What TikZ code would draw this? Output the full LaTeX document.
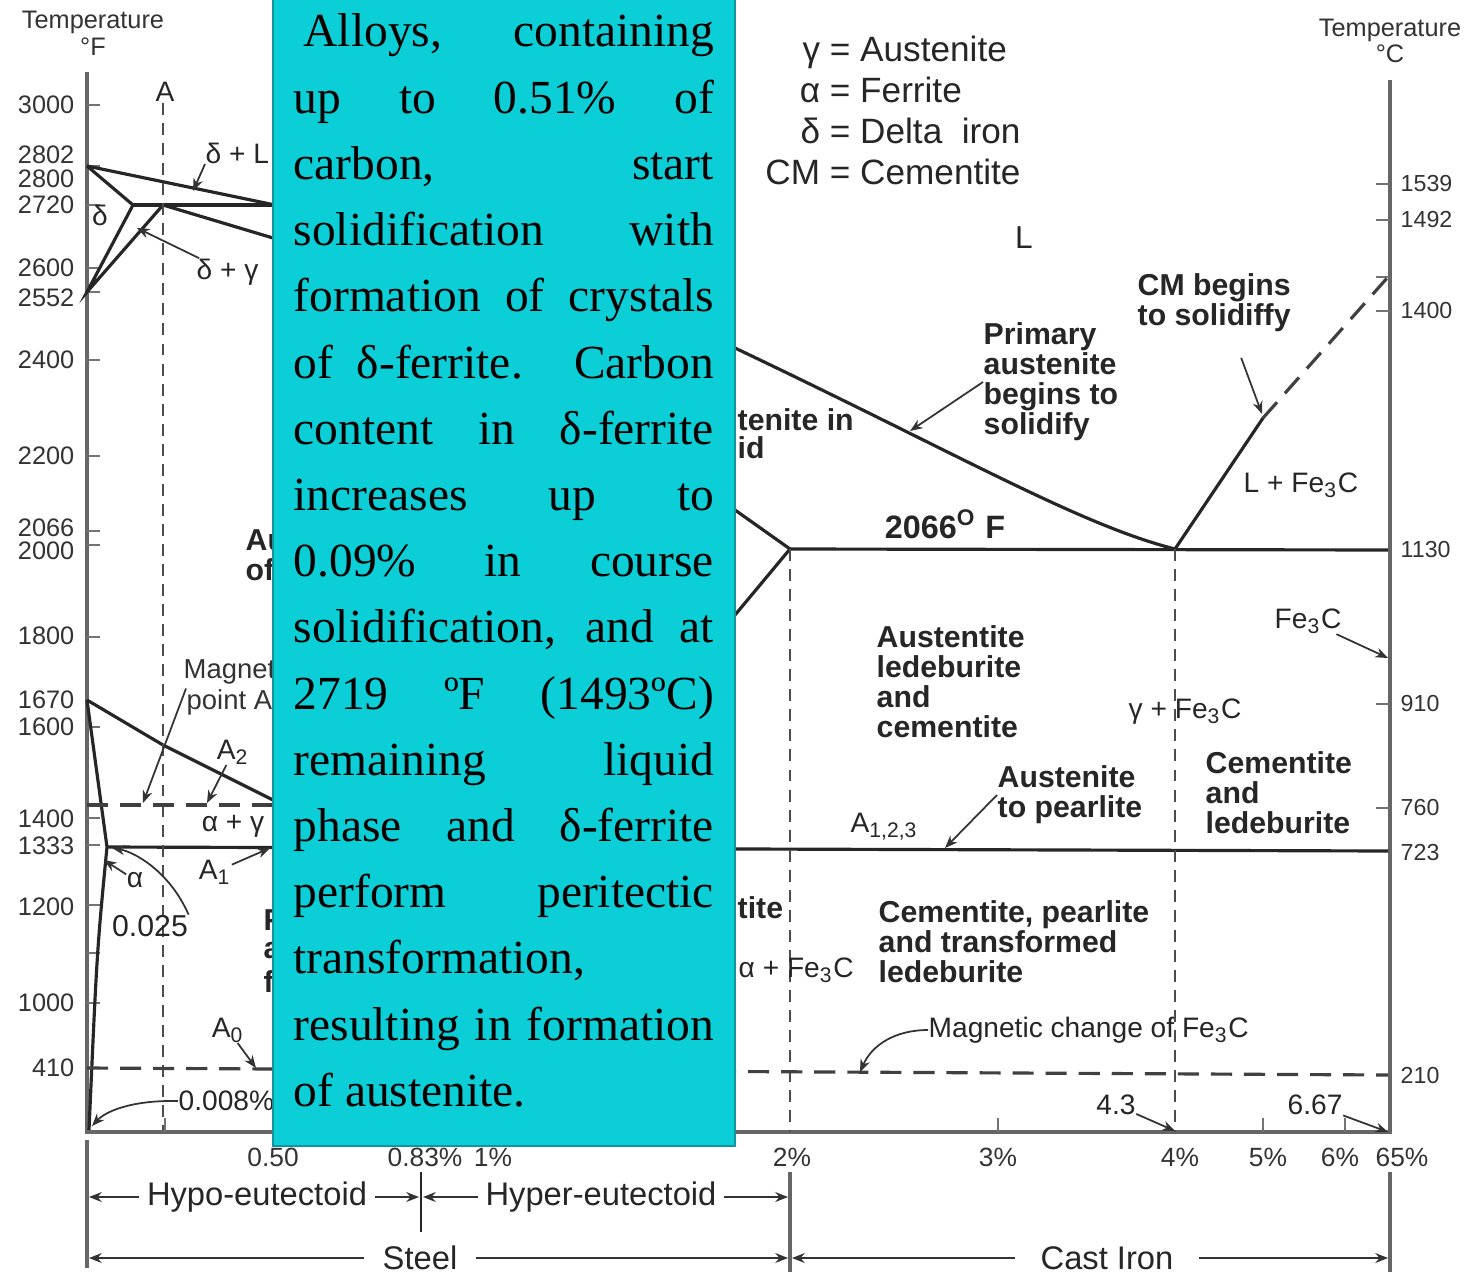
\documentclass[tikz,border=0pt]{standalone}
\usepackage{fontspec}
\setmainfont{Liberation Sans}
\newfontfamily\boxserif{Liberation Serif}
\usetikzlibrary{arrows.meta}

\definecolor{notecyan}{RGB}{11,206,214}
\definecolor{noteedge}{RGB}{16,150,158}
\newcommand{\fe}{Fe\textsubscript{3}C}
\newcommand{\jline}[1]{\makebox[4.2cm][s]{#1}}

\begin{document}
\begin{tikzpicture}[x=0.01cm,y=-0.01cm,
>={Stealth[length=3.6pt,width=2.8pt]},
phase/.style={line width=0.9pt,black!85},
frame/.style={line width=1.3pt,black!60},
tk/.style={line width=0.6pt,black!55},
dashv/.style={line width=0.8pt,black!70,dash pattern=on 3.4pt off 2.3pt},
dashh/.style={line width=0.9pt,black!75,dash pattern=on 6pt off 3.4pt},
lead/.style={->,line width=0.5pt,black!80},
lbl/.style={inner sep=0pt,text=black!85,font=\fontsize{8}{8.5}\selectfont},
tlab/.style={inner sep=0pt,text=black!80,font=\fontsize{7.2}{7.6}\selectfont},
region/.style={inner sep=0pt,align=left,text=black!85,font=\fontsize{8.6}{8.55}\selectfont\bfseries},
dim/.style={inner sep=2pt,text=black!85,font=\fontsize{9.3}{10}\selectfont},
note/.style={fill=notecyan,draw=noteedge,line width=0.6pt,minimum width=4.62cm,minimum height=11.54cm,inner sep=0pt},
notetxt/.style={inner sep=0pt,font=\boxserif\fontsize{13.5}{16}\selectfont}
]
\useasboundingbox (0,0) rectangle (1470,1276);
\fill[white] (0,0) rectangle (1470,1276);

% axes and scales
\draw[frame] (87,72) -- (87,1132) -- (1390,1132) -- (1390,80);
\foreach \y in {105,166,205,268,292,360,456,531,545,637,727,818,845,905,953,1003,1068}
  \draw[tk] (87,\y) -- (100,\y);
\foreach \y/\lbl in {105/3000,155/2802,179/2800,205/2720,268/2600,298/2552,360/2400,456/2200,528/2066,551/2000,636/1800,700/1670,727/1600,819/1400,846/1333,907/1200,1003/1000,1068/410}
  \node[tlab,anchor=east,font=\fontsize{7.2}{7.5}\selectfont] (f\lbl) at (75,\y) {\lbl};
\foreach \y in {184,220,277,311,704,808}
  \draw[tk] (1376,\y) -- (1390,\y);
\foreach \y/\lbl in {184/1539,220/1492,311/1400,550/1130,704/910,808/760,852/723,1075/210}
  \node[tlab,anchor=west,font=\fontsize{6.6}{7}\selectfont] (c\lbl) at (1400,\y) {\lbl};
\foreach \x in {165,998,1263,1345}
  \draw[tk] (\x,1132) -- (\x,1118);
\foreach \x/\lbl [count=\i] in {273/0.50,425/0.83\%,493/1\%,792/2\%,998/3\%,1180/4\%,1268/5\%,1340/6\%,1402/65\%}
  \node[tlab,font=\fontsize{7.5}{8}\selectfont] (p\i) at (\x,1157) {\lbl};
\node[tlab,align=center] (tempF) at (93,33) {Temperature\\°F};
\node[tlab,align=center] (tempC) at (1390,41) {Temperature\\°C};

% phase boundaries
\coordinate (melt) at (87,166);
\coordinate (dcorner) at (133,205);
\coordinate (peri) at (163,205);
\coordinate (dbase) at (87,292);
\coordinate (liq) at (275,205);
\coordinate (e2) at (790,549);
\coordinate (eut) at (1175,549);
\coordinate (cm) at (1263,418);
\coordinate (cmtop) at (1388,277);
\coordinate (g910) at (87,700);
\coordinate (a025) at (107,847);
\coordinate (eutd) at (421,847);

\draw[phase] (melt) -- (liq) -- (735,348) .. controls (960,455) and (1080,525) .. (eut);
\draw[phase] (melt) -- (dcorner) -- (dbase) -- (peri) -- (273,238) -- (735,510) -- (e2);
\draw[phase] (dcorner) -- (liq);
\draw[phase] (g910) -- (163,745) -- (273,800) -- (eutd) -- (735,615) -- (e2);
\draw[phase] (g910) -- (a025) .. controls (97,950) .. (89,1130);
\draw[phase] (a025) -- (1388,851);
\draw[phase] (e2) -- (1388,550);
\draw[phase] (eut) -- (cm);
\draw[dashh] (cm) -- (cmtop);
\draw[dashv] (163,103) -- (163,1130);
\draw[dashv] (e2) -- (790,1132);
\draw[dashv] (eut) -- (1175,1132);
\draw[dashh] (87,805) -- (275,805);
\draw[dashh] (87,1068) -- (1388,1075);

% legend
\node[inner sep=0pt,text=black!85,font=\fontsize{10}{11.7}\selectfont] (legend) at (893,115)
  {\begin{tabular}{@{}r@{ = }l@{}}γ & Austenite\\ α & Ferrite\\ δ & Delta\ \ iron\\ CM & Cementite\end{tabular}};

% labels, left part
\node[lbl] (lA) at (165,92) {A};
\node[lbl,anchor=west] (dL) at (205,153) {δ + L};
\node[lbl] (dlt) at (100,215) {δ};
\node[lbl,anchor=west] (dG) at (196,272) {δ + γ};
\node[tlab,anchor=west,font=\fontsize{7.8}{8}\selectfont] (magnet) at (183,672) {Magnet};
\node[tlab,anchor=west,font=\fontsize{7.8}{8}\selectfont] (pointA) at (186,702) {point A};
\node[region,anchor=west] (au) at (245,540) {Au};
\node[region,anchor=west] (of) at (245,570) {of};
\node[lbl] (a2) at (233,752) {A\textsubscript{2}};
\node[lbl] (ag) at (233,826) {α + γ};
\node[lbl] (a1) at (215,872) {A\textsubscript{1}};
\node[lbl] (al) at (135,880) {α};
\node[lbl,font=\fontsize{8.6}{9}\selectfont] (p025) at (150,926) {0.025};
\node[region,anchor=west,font=\fontsize{8.6}{9}\selectfont\bfseries] (fr1) at (263,920) {F};
\node[region,anchor=west,font=\fontsize{8.6}{9}\selectfont\bfseries] (fr2) at (263,951) {a};
\node[region,anchor=west,font=\fontsize{8.6}{9}\selectfont\bfseries] (fr3) at (263,982) {f};
\node[lbl] (a0) at (228,1030) {A\textsubscript{0}};
\node[lbl,anchor=west] (p008) at (178,1101) {0.008\%};

\draw[lead] (dL.south west) -- (193,191);
\draw[lead] (dG) -- (137,228);
\draw[lead] (pointA.north west) -- (143,803);
\draw[lead] (a2) -- (207,803);
\draw[lead] (a1) -- (270,848);
\draw[lead] (al) -- (104,860);
\draw[lead] (p025.north east) .. controls (170,872) and (135,852) .. (112,848);
\draw[lead] (a0) -- (256,1068);
\draw[lead] (p008.west) .. controls (130,1100) and (105,1112) .. (92,1126);

% labels, right part
\node[lbl,font=\fontsize{9}{9}\selectfont] (lq) at (1024,238) {L};
\node[region,anchor=west] (pa) at (983,382) {Primary\\austenite\\begins to\\solidify};
\node[region,anchor=west,font=\fontsize{8.6}{8}\selectfont\bfseries] (ail) at (737,434) {tenite in\\id};
\node[region,font=\fontsize{9.2}{9}\selectfont\bfseries] (t2066) at (945,524) {2066\textsuperscript{O} F};
\node[region,anchor=west] (cmb) at (1137,303) {CM begins\\to solidiffy};
\node[lbl,anchor=west] (lfe) at (1243,485) {L + \fe};
\node[lbl,anchor=west] (fe3) at (1274,621) {\fe};
\node[region,anchor=west] (alc) at (876,682) {Austentite\\ledeburite\\and\\cementite};
\node[lbl,anchor=west] (gfe) at (1128,712) {γ + \fe};
\node[region,anchor=west] (atp) at (997,795) {Austenite\\to pearlite};
\node[lbl,anchor=west] (a123) at (850,827) {A\textsubscript{1,2,3}};
\node[region,anchor=west] (cal) at (1205,793) {Cementite\\and\\ledeburite};
\node[region,anchor=west] (tite) at (737,908) {tite};
\node[lbl,anchor=west] (afe) at (738,970) {α + \fe};
\node[region,anchor=west] (cpt) at (878,942) {Cementite, pearlite\\and transformed\\ledeburite};
\node[lbl,anchor=west] (mc) at (928,1030) {Magnetic change of \fe};
\node[lbl] (p43) at (1116,1105) {4.3};
\node[lbl] (p667) at (1315,1105) {6.67};

\draw[lead] (pa.west) -- (910,431);
\draw[lead] ([xshift=0.27cm,yshift=-0.25cm]cmb.south) -- (1262,414);
\draw[lead] (atp.west) -- (945,848);
\draw[lead] (fe3) -- (1388,658);
\draw[lead] (mc.west) .. controls (895,1030) and (872,1045) .. (860,1072);
\draw[lead] (p43) -- (1175,1131);
\draw[lead] (p667) -- (1388,1132);

% steel and cast iron ranges
\draw[frame] (87,1140) -- (87,1268);
\draw[line width=0.8pt,black!85] (421,1172) -- (421,1232);
\draw[frame] (790,1172) -- (790,1272);
\draw[frame] (1390,1172) -- (1390,1272);
\node[dim] (hypo) at (257,1197) {Hypo-eutectoid};
\node[dim] (hyper) at (601,1197) {Hyper-eutectoid};
\node[dim,inner xsep=0.18cm] (steel) at (420,1258) {Steel};
\node[dim,inner xsep=0.25cm] (cast) at (1107,1258) {Cast Iron};
\draw[->,line width=0.8pt,black!80] (hypo) -- (89,1197);
\draw[->,line width=0.8pt,black!80] (hypo) -- (419,1197);
\draw[->,line width=0.8pt,black!80] (hyper) -- (423,1197);
\draw[->,line width=0.8pt,black!80] (hyper) -- (788,1197);
\draw[->,line width=0.8pt,black!80] (steel) -- (89,1258);
\draw[->,line width=0.8pt,black!80] (steel) -- (788,1258);
\draw[->,line width=0.8pt,black!80] (cast) -- (792,1258);
\draw[->,line width=0.8pt,black!80] (cast) -- (1388,1258);

% text box
\node[note] (note) at (504,569) {};
\foreach \words [count=\i from 0] in {{\hspace*{0.1cm}Alloys, containing},{up to 0.51\% of},{carbon, start},{solidification with},{formation of crystals},{of δ-ferrite. Carbon},{content in δ-ferrite},{increases up to},{0.09\% in course},{solidification, and at},{2719 ºF (1493ºC)},{remaining liquid},{phase and δ-ferrite},{perform peritectic},{transformation,\hfill},{resulting in formation},{of austenite.\hfill}}
  \node[notetxt,anchor=base west] (line\i) at (293,{47+66.2*\i}) {\jline{\words}};

\end{tikzpicture}
\end{document}
